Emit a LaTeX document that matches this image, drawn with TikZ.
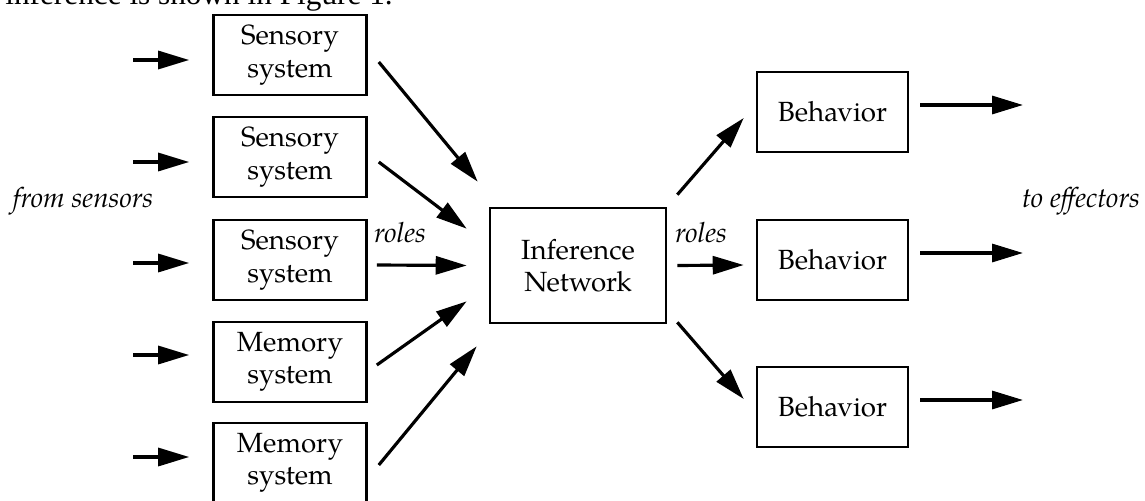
\documentclass[tikz,border=0pt]{standalone}
\usepackage{fontspec}
\setmainfont{TeX Gyre Pagella}
\newfontfamily\timesf{Liberation Serif}
\usepackage{tikz}
\usetikzlibrary{arrows.meta, calc}

\begin{document}
\begin{tikzpicture}[x=0.02cm, y=-0.02cm,
  box/.style={draw, line width=1.5pt, minimum width=3.06cm, minimum height=1.6cm, align=center, font=\fontsize{15.8}{18.4}\selectfont},
  arr/.style={-{Triangle[length=0.62cm,width=0.36cm]}, line width=1.8pt},
  lab/.style={anchor=base, font=\fontsize{15.8}{18.4}\selectfont\itshape}]
\clip (0,0) rectangle (1145,500);
\node[anchor=base west, inner sep=0pt, font=\timesf\fontsize{17.8}{20}\selectfont] (head) at (5,5) {inference is shown in Figure 1.};
% systems on the left
\node[box] (s1) at (290,55) {Sensory\\system};
\node[box] (s2) at (290,157) {Sensory\\system};
\node[box] (s3) at (290,260) {Sensory\\system};
\node[box] (m1) at (290,362) {Memory\\system};
\node[box] (m2) at (290,463) {Memory\\system};
\foreach \n/\y in {s1/60, s2/162, s3/263, m1/355, m2/457} {
  \coordinate (in\n) at (133,\y);
  \draw[arr] (in\n) -- ($(\n.west |- in\n)+(-23,0)$);
}
\node[lab] (from) at (83,207) {from sensors};
% inference network
\node[box, minimum width=3.52cm, minimum height=2.3cm] (inf) at (578,265.5) {Inference\\Network};
\draw[arr] ($(s1.east)+(11,7)$) -- ($(inf.north west)+(-11,-25)$);
\draw[arr] ($(s2.east)+(11,5)$) -- ($(inf.north west)+(-22,22)$);
\draw[arr] ($(s3.east)+(9,5)$) -- ($(inf.west)+(-22,0)$);
\draw[arr] ($(m1.east)+(9,3)$) -- ($(inf.south west)+(-22,-23)$);
\draw[arr] ($(m2.east)+(11,2)$) -- ($(inf.south west)+(-12,22)$);
\node[lab] (rolesin) at (400,242) {roles};
\node[lab] (rolesout) at (701,242) {roles};
% behaviors on the right
\node[box, minimum width=3.02cm] (b1) at (832.5,112) {Behavior};
\node[box, minimum width=3.02cm] (b2) at (832.5,260) {Behavior};
\node[box, minimum width=3.02cm] (b3) at (832.5,407) {Behavior};
\draw[arr] ($(inf.north east)+(10,-12)$) -- ($(b1.west)+(-12,6)$);
\draw[arr] ($(inf.east)+(10,0)$) -- ($(b2.west)+(-12,5)$);
\draw[arr] ($(inf.south east)+(10,-2)$) -- ($(b3.west)+(-12,-8)$);
\foreach \n/\y in {b1/105, b2/253, b3/400} {
  \coordinate (out\n) at (1023,\y);
  \draw[arr] ($(\n.east |- out\n)+(11,0)$) -- (out\n);
}
\node[lab] (to) at (1081,207) {to effectors};
\end{tikzpicture}
\end{document}
